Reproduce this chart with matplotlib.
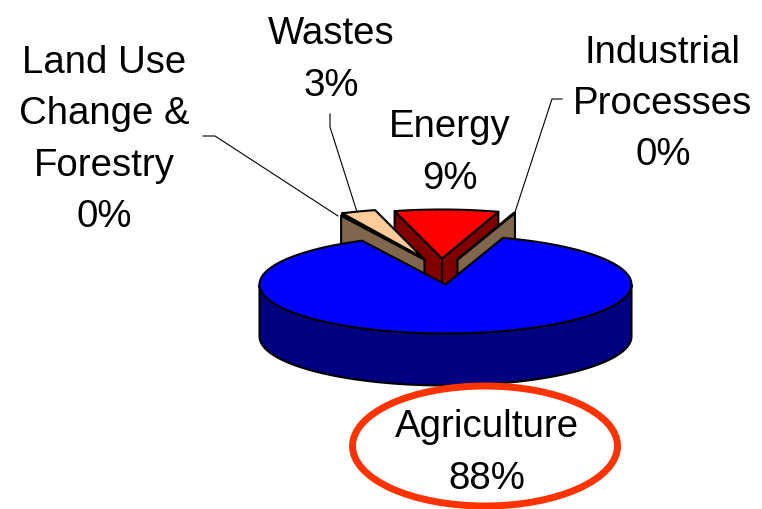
import numpy as np
import matplotlib
matplotlib.use("Agg")
import matplotlib.pyplot as plt
from matplotlib.patches import Ellipse, Polygon

plt.rcParams['font.family'] = ['Liberation Sans', 'DejaVu Sans']

# Data, clockwise from the first slice
names = ["Agriculture", "Land Use\nChange &\nForestry", "Wastes", "Energy", "Industrial\nProcesses"]
shares = [87.6, 0.3, 3.0, 9.0, 0.1]
start_angle = 18.0

# Styles
tops = ["#0000FF", "#FFCC99", "#FFCC99", "#FF0000", "#FFCC99"]
walls = ["#000080", "#80664C", "#80664C", "#800000", "#80664C"]
# how far each slice is pulled out of the pie, pixels
shift_x = [0, -21, -23, -3.5, 12]
shift_y = [0, -25, -27, -26, -25]
# order the slices get painted in, back ones first
paint_order = [3, 4, 2, 1, 0]
label_x = [487, 104, 331, 450, 663]
label_y = [453, 140, 60, 153, 104]

cx, cy = 445.5, 285.5
rx, ry = 186, 49
depth = 52

fig = plt.figure(figsize=(7.62, 5.10), dpi=100)
ax = fig.add_axes([0, 0, 1, 1])
ax.set_xlim(0, 762)
ax.set_ylim(510, 0)
ax.axis("off")


def rim(theta, dx, dy):
    t = np.radians(theta)
    return cx + dx + rx * np.sin(t), cy + dy - ry * np.cos(t)


edges = start_angle + np.cumsum([0] + [s * 360 / sum(shares) for s in shares])

for i in paint_order:
    a1, a2 = edges[i], edges[i + 1]
    dx, dy = shift_x[i], shift_y[i]
    apex = (cx + dx, cy + dy)
    # radial walls that face the viewer
    for a, show in [(a1, np.sin(np.radians(a1)) < 0), (a2, np.sin(np.radians(a2)) > 0)]:
        if show and i != 0:
            x, y = rim(a, dx, dy)
            ax.add_patch(Polygon([apex, (x, y), (x, y + depth), (apex[0], apex[1] + depth)],
                                 fc=walls[i], ec="black", lw=1.5, joinstyle="round"))
    # outer wall of the big slice
    if i == 0:
        th = np.linspace(90, 270, 120)
        x, y = rim(th, dx, dy)
        pts = list(zip(x, y + depth)) + list(zip(x[::-1], y[::-1]))
        ax.add_patch(Polygon(pts, fc=walls[i], ec="black", lw=1.5))
    th = np.linspace(a1, a2, 200)
    x, y = rim(th, dx, dy)
    ax.add_patch(Polygon([apex] + list(zip(x, y)), fc=tops[i], ec="black", lw=1.5, joinstyle="round"))

# leader lines
ax.plot([203, 215, 338], [137, 137, 217], color="black", lw=0.8)
ax.plot([330, 330, 357], [115, 128, 213], color="black", lw=0.8)
ax.plot([562, 552, 515], [100, 100, 213], color="black", lw=0.8)

# labels
for i in range(len(names)):
    ax.text(label_x[i], label_y[i], f"{names[i]}\n{shares[i]:.0f}%", ha="center", va="center",
            fontsize=27.6, color="black", linespacing=1.55)

# highlight round the Agriculture label
ax.add_patch(Ellipse((485, 447), 265, 120, fc="none", ec="#FF3300", lw=5))

fig.savefig("out.png", dpi=100)
